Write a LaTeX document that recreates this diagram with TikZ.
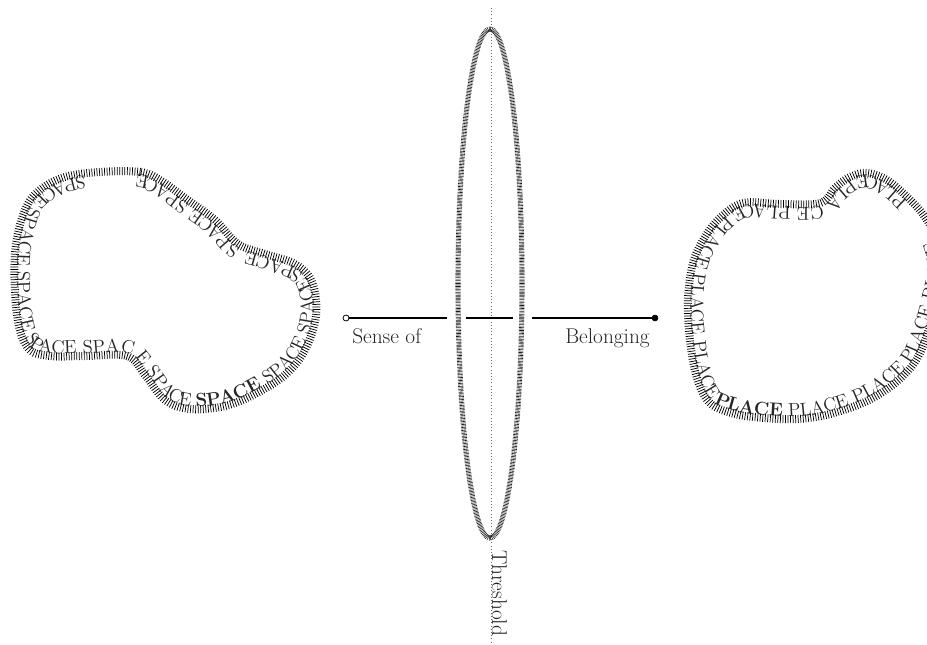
\documentclass[tikz,border=0pt]{standalone}
\usetikzlibrary{decorations.pathreplacing, decorations.text}

\newcommand{\blobfont}{\fontsize{14}{16}\selectfont}

\tikzset{
  blobline/.style={decorate, decoration={ticks, segment length=1.9pt, amplitude=3pt}, line width=0.55pt},
  threshline/.style={decorate, decoration={ticks, segment length=1.1pt, amplitude=1.9pt}, line width=0.45pt, black!90},
  blobtext/.style={decorate, decoration={text along path, raise=2pt, text color=black!85,
    text align={left indent=#1}}},
  opendot/.style={circle, draw, fill=white, inner sep=0pt, minimum size=4.5pt, line width=0.6pt},
  fulldot/.style={circle, draw, fill=black, inner sep=0pt, minimum size=4.5pt},
  wordlabel/.style={inner sep=0pt, font=\fontsize{16}{18}\selectfont, black!85}
}

\begin{document}
\begin{tikzpicture}[x=0.75pt,y=-0.75pt]
\useasboundingbox (0,0) rectangle (927,645);

% threshold
\coordinate (threshtop) at (491,8);
\coordinate (threshbot) at (491,645);
\draw[dotted, black!60] (threshtop) -- (threshbot);
\draw[threshline] (490,283.5) ellipse [x radius=24pt, y radius=190.9pt];
\node[wordlabel, rotate=-90, anchor=base west] (threshtext) at (492,550) {Threshold};

% sense of belonging
\node[opendot] (sense) at (346,318) {};
\coordinate (senseend) at (447,318);
\coordinate (midl) at (466,318);
\coordinate (midr) at (513,318);
\coordinate (belongstart) at (532,318);
\node[fulldot] (belong) at (655,318) {};
\draw[line width=0.8pt] (sense) -- (senseend);
\draw[line width=0.8pt] (midl) -- (midr);
\draw[line width=0.8pt] (belongstart) -- (belong);
\node[wordlabel, anchor=base west] (sensetext) at (352,343) {Sense of};
\node[wordlabel, anchor=base east] (belongtext) at (650,343) {Belonging};

% space blob
\draw[blobline] plot[smooth cycle, tension=0.6] coordinates {
  (160,180) (140,172) (100,172) (65,177) (40,190) (25,210) (15,253) (17,315)
  (28,348) (50,356) (85,356) (127,356) (145,375) (165,400) (190,409) (225,406)
  (255,394) (285,375) (305,350) (316,315) (312,282) (295,264) (265,254) (238,244)
  (215,220) (185,198)};
\path[blobtext=42pt, decoration={text={|\blobfont|SPACE SPACE SPACE SPACE SPACE SPACE |\blobfont\bfseries|SPACE|\blobfont\mdseries| SPACE SPACE SPACE SPACE SPACE SPACE SPACE SPACE}}]
  plot[smooth cycle, tension=0.6] coordinates {
  (160,180) (140,172) (100,172) (65,177) (40,190) (25,210) (15,253) (17,315)
  (28,348) (50,356) (85,356) (127,356) (145,375) (165,400) (190,409) (225,406)
  (255,394) (285,375) (305,350) (316,315) (312,282) (295,264) (265,254) (238,244)
  (215,220) (185,198)};

% place blob
\draw[blobline] plot[smooth cycle, tension=0.6] coordinates {
  (943,265) (935,235) (922,213) (905,195) (887,180) (867,173) (850,177) (835,188)
  (820,203) (780,204) (743,203) (720,218) (705,237) (693,263) (688,300) (690,340)
  (697,378) (710,403) (735,414) (765,418) (797,419) (830,414) (867,401) (895,383)
  (915,362) (927,335) (937,300)};
\path[blobtext=33pt, decoration={text={|\blobfont|PLACE PLACE PLACE PLACE PLACE PLACE |\blobfont\bfseries|PLACE|\blobfont\mdseries| PLACE PLACE PLACE PLACE PLACE PLACE PLACE PLACE}}]
  plot[smooth cycle, tension=0.6] coordinates {
  (943,265) (935,235) (922,213) (905,195) (887,180) (867,173) (850,177) (835,188)
  (820,203) (780,204) (743,203) (720,218) (705,237) (693,263) (688,300) (690,340)
  (697,378) (710,403) (735,414) (765,418) (797,419) (830,414) (867,401) (895,383)
  (915,362) (927,335) (937,300)};
\end{tikzpicture}
\end{document}
